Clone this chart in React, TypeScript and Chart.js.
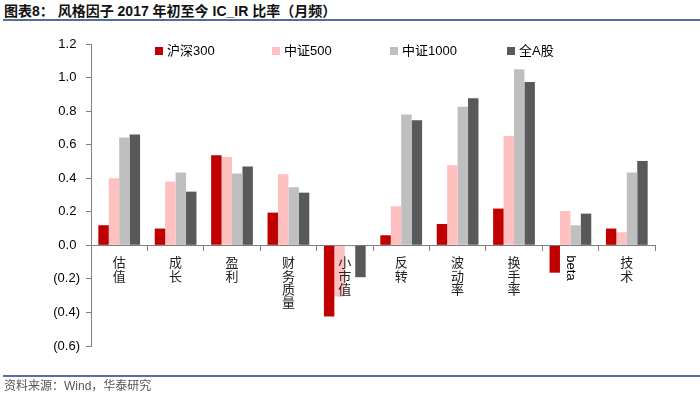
import React, { useEffect, useRef } from "react";
import { Chart, registerables } from "chart.js";

Chart.register(...registerables);

const categories = ["估值", "成长", "盈利", "财务质量", "小市值", "反转", "波动率", "换手率", "beta", "技术"];
const seriesNames = ["沪深300", "中证500", "中证1000", "全A股"];
const hs300 = [0.12, 0.10, 0.537, 0.195, -0.424, 0.06, 0.127, 0.219, -0.163, 0.10];
const zz500 = [0.40, 0.38, 0.527, 0.424, -0.305, 0.233, 0.478, 0.651, 0.205, 0.078];
const zz1000 = [0.643, 0.434, 0.428, 0.346, -0.005, 0.78, 0.826, 1.05, 0.119, 0.434];
const allA = [0.66, 0.32, 0.47, 0.314, -0.19, 0.746, 0.876, 0.973, 0.189, 0.503];
const colors = ["#C00000", "#FFC0C0", "#BFBFBF", "#595959"];
const yTicks = [-0.6, -0.4, -0.2, 0, 0.2, 0.4, 0.6, 0.8, 1.0, 1.2];

const fmt = (v: number) => (v < 0 ? `(${Math.abs(v).toFixed(1)})` : `${v.toFixed(1)} `);

const SANS = "'Liberation Sans', Arial, 'Noto Sans CJK SC', sans-serif";

const overlayPlugin = {
  id: "overlay",
  afterDraw(chart: any) {
    const ctx = chart.ctx;
    const xs = chart.scales.x;
    const ys = chart.scales.y;
    const zeroY = ys.getPixelForValue(0);
    ctx.save();
    // category labels
    ctx.fillStyle = "#222";
    ctx.textAlign = "center";
    ctx.textBaseline = "middle";
    categories.forEach((cat, i) => {
      const x = xs.getPixelForValue(i);
      if (/^[A-Za-z]+$/.test(cat)) {
        ctx.save();
        ctx.font = `13px ${SANS}`;
        ctx.translate(x, zeroY + 10);
        ctx.rotate(Math.PI / 2);
        ctx.textAlign = "left";
        ctx.fillStyle = "#000";
        ctx.fillText(cat, 0, 0);
        ctx.restore();
      } else {
        ctx.font = `13px 'Noto Sans CJK SC', sans-serif`;
        Array.from(cat).forEach((ch, k) => {
          ctx.fillText(ch, x, zeroY + 17 + k * 13.3);
        });
      }
    });
    // legend
    const legendX = [155, 272, 390, 507];
    chart.data.datasets.forEach((ds: any, i: number) => {
      const lx = legendX[i];
      ctx.fillStyle = ds.backgroundColor;
      ctx.fillRect(lx, 47, 8, 8);
      ctx.fillStyle = "#000";
      ctx.font = `13px ${SANS}`;
      ctx.textAlign = "left";
      ctx.textBaseline = "middle";
      ctx.fillText(ds.label, lx + 12, 51);
    });
    ctx.restore();
  },
};

export default function App() {
  const ref = useRef<HTMLCanvasElement>(null);
  useEffect(() => {
    if (!ref.current) return;
    const data = [hs300, zz500, zz1000, allA];
    const chart = new Chart(ref.current, {
      type: "bar",
      data: {
        labels: categories,
        datasets: data.map((d, i) => ({
          label: seriesNames[i],
          data: d,
          backgroundColor: colors[i],
          borderWidth: 0,
          barPercentage: 1,
          categoryPercentage: 0.74,
        })),
      },
      options: {
        responsive: false,
        animation: false,
        layout: { padding: { left: 0, top: 44, right: 45, bottom: 52 } },
        plugins: { legend: { display: false }, tooltip: { enabled: false } },
        scales: {
          x: {
            position: { y: 0 } as any,
            offset: true,
            grid: { display: true, drawOnChartArea: false, drawTicks: true, tickLength: 5, offset: true, color: "#7f7f7f" },
            border: { display: true, color: "#7f7f7f", width: 1 },
            ticks: { display: false },
          },
          y: {
            min: -0.6,
            max: 1.2,
            afterFit: (s: any) => { s.width = 91; },
            afterBuildTicks: (s: any) => { s.ticks = yTicks.map((v) => ({ value: v })); },
            grid: { display: true, drawOnChartArea: false, drawTicks: true, tickLength: 5, color: "#7f7f7f" },
            border: { display: true, color: "#7f7f7f", width: 1 },
            ticks: {
              padding: 6,
              color: "#000",
              font: { family: SANS, size: 13 },
              callback: (v: any) => fmt(Number(v)),
            },
          },
        },
      },
      plugins: [overlayPlugin],
    });
    return () => chart.destroy();
  }, []);

  return (
    <div style={{ position: "absolute", left: 0, top: 0, width: 700, height: 398, background: "#fff", overflow: "hidden" }}>
      <div style={{ position: "absolute", left: 4, top: 3, fontFamily: "'Liberation Sans', Arial, 'Noto Sans CJK SC', sans-serif", fontWeight: "bold", fontSize: 14, color: "#111", whiteSpace: "nowrap", lineHeight: "16px" }}>
        图表8：&nbsp;风格因子 2017 年初至今 IC_IR 比率（月频）
      </div>
      <div style={{ position: "absolute", left: 3, top: 19, width: 697, height: 2, background: "#4f6f9f" }} />
      <canvas ref={ref} width={700} height={398} style={{ position: "absolute", left: 0, top: 0 }} />
      <div style={{ position: "absolute", left: 3, top: 375, width: 697, height: 2, background: "#4f72ad" }} />
      <div style={{ position: "absolute", left: 4, top: 379, fontFamily: "'Liberation Sans', Arial, 'Noto Sans CJK SC', sans-serif", fontSize: 12, color: "#555", whiteSpace: "nowrap", lineHeight: "14px" }}>
        资料来源：Wind，华泰研究
      </div>
    </div>
  );
}
